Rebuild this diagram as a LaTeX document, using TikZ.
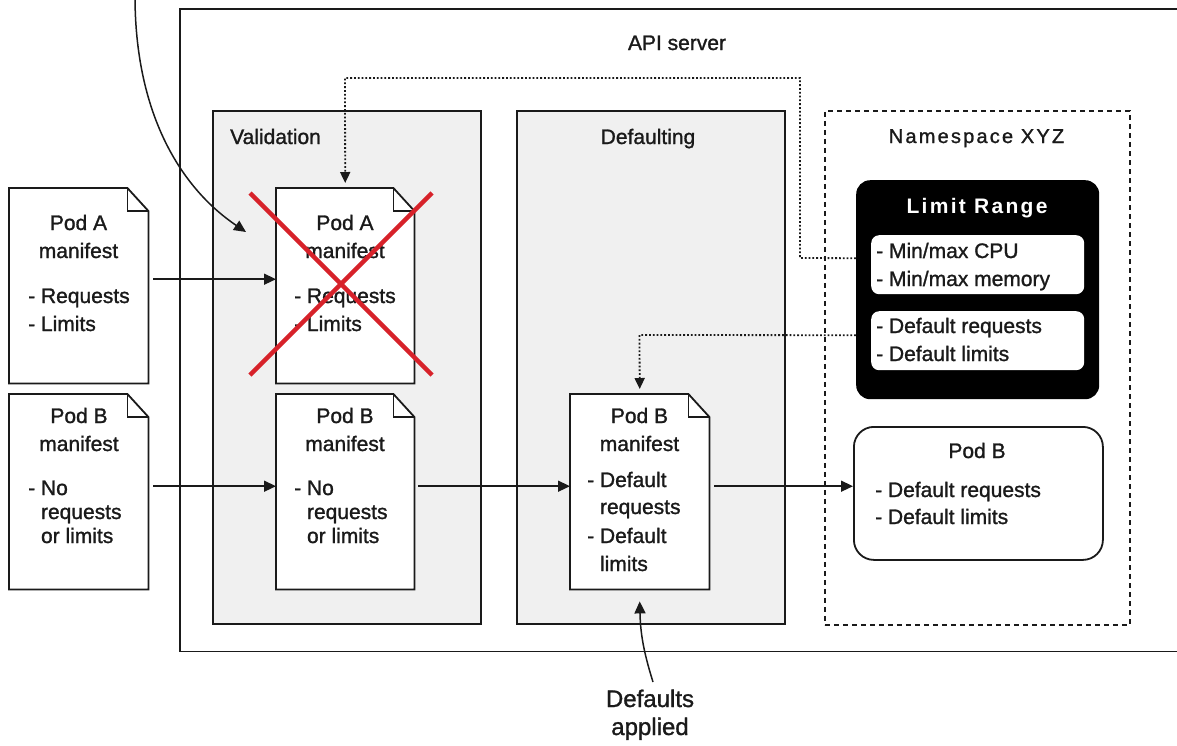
\documentclass[tikz,border=0pt]{standalone}
\usepackage{fontspec}
\setmainfont{Liberation Sans}[UprightFeatures={FakeBold=1.2}]
\usetikzlibrary{arrows.meta}
\definecolor{redx}{HTML}{D7222A}
\definecolor{panelgray}{HTML}{F0F0F0}
\definecolor{ink}{HTML}{1A1A1A}
\newcommand\docnode[5]{%
  \node[inner sep=0pt, minimum width=#4pt, minimum height=#5pt, anchor=north west] (#1) at (#2,#3) {};
  \draw[docline, fill=white] (#1.north west) -- ([xshift=-21pt]#1.north east) -- ([yshift=-23pt]#1.north east) -- (#1.south east) -- (#1.south west) -- cycle;
  \draw[docline, line width=1.3pt] ([xshift=-21pt]#1.north east) -- ([xshift=-21pt,yshift=-23pt]#1.north east) -- ([yshift=-23pt]#1.north east);
}
\tikzset{
  txt/.style={font=\fontsize{21}{26}\selectfont, inner sep=0pt, anchor=base, text=ink},
  txtl/.style={txt, anchor=base west},
  big/.style={font=\fontsize{24}{28}\selectfont, inner sep=0pt, anchor=base, text=ink},
  spaced/.style={font=\fontsize{20}{24}\selectfont\addfontfeatures{LetterSpace=11}, inner sep=0pt, anchor=base},
  docline/.style={draw=ink, line width=1.8pt, line join=miter},
  panel/.style={draw=ink, fill=panelgray, line width=1.8pt, inner sep=0pt, anchor=north west},
  box/.style={inner sep=0pt, anchor=north west},
  arr/.style={draw=ink, line width=1.5pt, -{Triangle[length=12pt,width=11pt]}},
  dots/.style={draw=ink, dash pattern=on 1.8pt off 2pt, line width=1.8pt, -{Triangle[length=11pt,width=10pt]}},
}
\begin{document}
\begin{tikzpicture}[x=1pt,y=-1pt]
\useasboundingbox (0,0) rectangle (1177,745);
\fill[white] (0,0) rectangle (1177,745);

% API server
\node[box, minimum width=1010pt, minimum height=642pt] (api) at (180,9) {};
\draw[ink, line width=1.8pt] (api.north east) -- (api.north west) -- (api.south west) -- (api.south east);
\node[txt] (apil) at (677,50) {API server};

% panels
\node[panel, minimum width=268pt, minimum height=513pt] (val) at (212,110) {};
\node[txtl] (vall) at (230,144) {Validation};
\node[panel, minimum width=268pt, minimum height=513pt] (def) at (516,110) {};
\node[txt] (defl) at (648,144) {Defaulting};
\node[box, draw=ink, dash pattern=on 5pt off 4pt, line width=1.6pt, minimum width=305pt, minimum height=514pt] (ns) at (824,110) {};
\node[spaced, text=ink] (nsl) at (976.5,143) {Namespace XYZ};

% Limit range
\node[box, fill=black, rounded corners=14pt, minimum width=243pt, minimum height=219pt] (lr) at (856,180) {};
\node[spaced, text=white, font=\fontsize{21}{24}\selectfont\bfseries\addfontfeatures{LetterSpace=11}] (lrl) at (977,213) {Limit Range};
\node[box, fill=white, rounded corners=8pt, minimum width=213pt, minimum height=59pt] (lr1) at (871,235) {};
\node[box, fill=white, rounded corners=8pt, minimum width=213pt, minimum height=59pt] (lr2) at (871,311) {};
\node[txtl] (lr1a) at (876,258) {- Min/max CPU};
\node[txtl] (lr1b) at (876,286) {- Min/max memory};
\node[txtl] (lr2a) at (876,333) {- Default requests};
\node[txtl] (lr2b) at (876,361) {- Default limits};

% Pod B box
\node[box, draw=ink, fill=white, line width=1.8pt, rounded corners=20pt, minimum width=249pt, minimum height=133pt] (podB) at (853,426) {};
\node[txt] (podBt) at (977,458) {Pod B};
\node[txtl] (podBa) at (875,497) {- Default requests};
\node[txtl] (podBb) at (875,524) {- Default limits};

% documents
\docnode{podAin}{9}{188}{139}{195}
\node[txt] (pa1) at (78.5,230) {Pod A};
\node[txt] (pa2) at (78.5,258) {manifest};
\node[txtl] (pa3) at (28,303) {- Requests};
\node[txtl] (pa4) at (28,331) {- Limits};

\docnode{podAval}{276}{188}{138}{195}
\node[txt] (pv1) at (345,230) {Pod A};
\node[txt] (pv2) at (345,258) {manifest};
\node[txtl] (pv3) at (294,303) {- Requests};
\node[txtl] (pv4) at (294,331) {- Limits};

\docnode{podBin}{9}{394}{139}{195}
\node[txt] (pb1) at (79,423) {Pod B};
\node[txt] (pb2) at (79,451) {manifest};
\node[txtl] (pb3) at (28,495) {- No};
\node[txtl] (pb4) at (28,519) {\phantom{- }requests};
\node[txtl] (pb5) at (28,543) {\phantom{- }or limits};

\docnode{podBval}{276}{394}{138}{195}
\node[txt] (pw1) at (345,423) {Pod B};
\node[txt] (pw2) at (345,451) {manifest};
\node[txtl] (pw3) at (294,495) {- No};
\node[txtl] (pw4) at (294,519) {\phantom{- }requests};
\node[txtl] (pw5) at (294,543) {\phantom{- }or limits};

\docnode{podBdef}{570}{394}{139}{195}
\node[txt] (pd1) at (639.5,423) {Pod B};
\node[txt] (pd2) at (639.5,451) {manifest};
\node[txtl] (pd3) at (587,487) {- Default};
\node[txtl] (pd4) at (587,514) {\phantom{- }requests};
\node[txtl] (pd5) at (587,543) {- Default};
\node[txtl] (pd6) at (587,571) {\phantom{- }limits};

% red cross
\draw[redx, line width=4.5pt] (250,193) -- (432,375);
\draw[redx, line width=4.5pt] (432,193) -- (250,375);

% arrows
\draw[arr] ([xshift=5pt,yshift=6.5pt]podAin.east) -- ([yshift=6.5pt]podAval.west);
\draw[arr] ([xshift=5pt,yshift=5.5pt]podBin.east) -- ([yshift=5.5pt]podBval.west);
\draw[arr] ([xshift=4pt,yshift=5.5pt]podBval.east) -- ([yshift=5.5pt]podBdef.west);
\draw[arr] ([xshift=5pt,yshift=5.5pt]podBdef.east) -- ([yshift=5.5pt]podBdef.east -| podB.west);

% dotted
\draw[dots] ([yshift=31.5pt]lr.west) -- (800,258) -- (800,78) -- (345,78) -- ([yshift=5pt]podAval.north);
\draw[dots] ([yshift=-45.5pt]lr.west) -- (639.5,335) -- ([yshift=5pt]podBdef.north);

% curved arrow from top
\coordinate (topin) at (135,-4);
\coordinate (crossTip) at (246,232);
\draw[arr] (topin) .. controls (135,110) and (178,186) .. (crossTip);

% defaults applied
\node[big] (da1) at (650,707) {Defaults};
\node[big] (da2) at (650,735) {applied};
\coordinate (dstart) at (653,682);
\draw[arr] (dstart) to[bend left=8] ([yshift=-12pt]podBdef.south);
\end{tikzpicture}
\end{document}
